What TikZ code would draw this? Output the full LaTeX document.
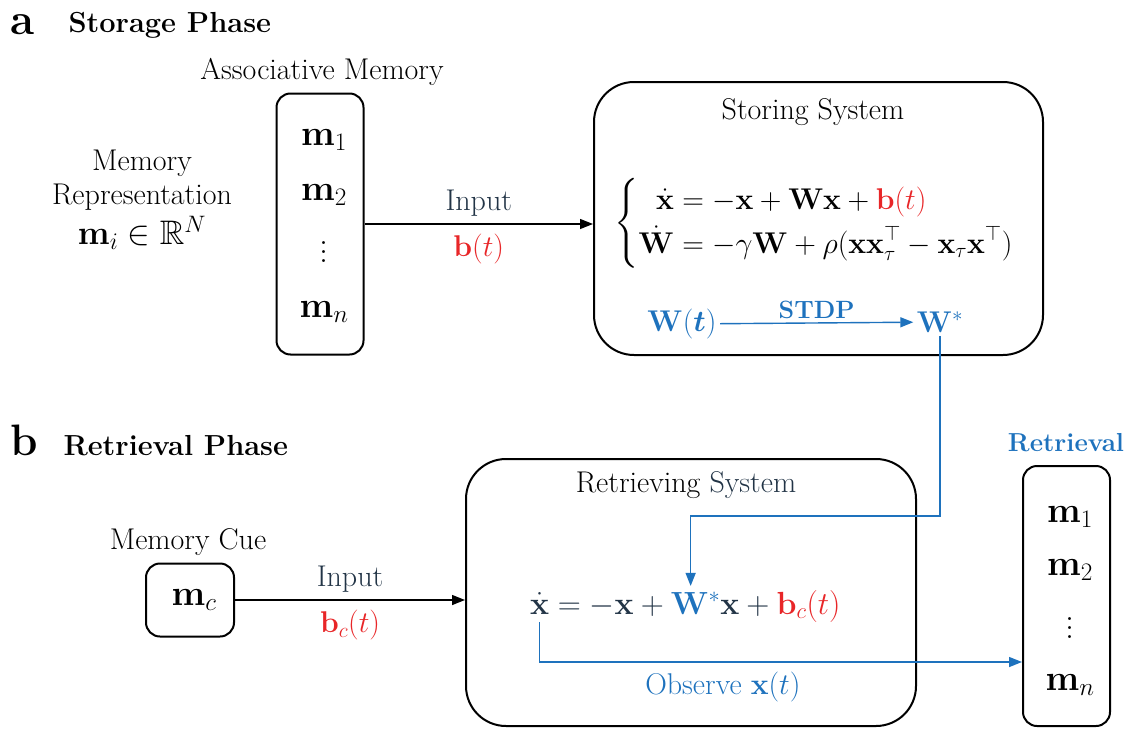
\RequirePackage{fix-cm}
\documentclass[tikz,border=0pt]{standalone}
\usepackage{amsmath}
\usepackage{amssymb}
\usetikzlibrary{positioning, arrows.meta, calc}

\definecolor{stdpblue}{RGB}{30,114,189}
\definecolor{inred}{RGB}{232,38,40}
\definecolor{slate}{RGB}{34,52,70}

% dots that grow with the font
\newcommand{\tallvdots}{\vbox{\baselineskip=9pt\lineskiplimit=0pt\hbox{.}\hbox{.}\hbox{.}}}

\begin{document}
\begin{tikzpicture}[x=1pt, y=-1pt,
    every node/.style={font=\fontsize{30}{34}\selectfont},
    panel/.style={font=\fontsize{44}{46}\selectfont\bfseries, anchor=base, inner sep=1pt},
    heading/.style={font=\fontsize{29}{33}\selectfont\bfseries, anchor=base west},
    mathtxt/.style={font=\fontsize{36}{40}\selectfont},
    wnode/.style={font=\fontsize{30}{34}\selectfont, stdpblue},
    membox/.style={rectangle, draw=black, line width=2pt, rounded corners=14pt,
                   minimum width=87pt, minimum height=261pt},
    cuebox/.style={rectangle, draw=black, line width=2pt, rounded corners=14pt,
                   minimum width=88pt, minimum height=73pt},
    sysbox/.style={rectangle, draw=black, line width=2pt, rounded corners=40pt},
    eqpart/.style={inner sep=0pt, outer sep=0pt, anchor=base west,
                   font=\fontsize{32}{36}\selectfont},
    arrow/.style={-{Triangle[length=13pt, width=10pt]}, line width=1.4pt},
    bluearrow/.style={arrow, stdpblue}
]
    \useasboundingbox (0,0) rectangle (1129,728);

    % === a: Storage Phase ===
    \node[panel] (pa) at (23,34) {a};
    \node[heading] (storage) at (65,32) {Storage Phase};

    % Associative memory
    \node (assoclbl) at (322,72) {Associative Memory};
    \node[membox] (assoc) at (320,224) {};
    \foreach \i/\y/\t in {1/140/\mathbf{m}_1, 2/195/\mathbf{m}_2, 3/252/\tallvdots, 4/312/\mathbf{m}_n}
        \node[mathtxt] (am\i) at (324,\y) {$\t$};

    % Representation
    \node[align=center] (rep) at (142,200) {Memory\\Representation\\[4pt]
        \fontsize{34}{38}\selectfont$\mathbf{m}_i \in \mathbb{R}^N$};

    % Storing system
    \node[sysbox, minimum width=449pt, minimum height=273pt] (store) at (818.5,218.5) {};
    \node (storelbl) at (813,112) {Storing System};
    \node[font=\fontsize{30}{41}\selectfont] (storeq) at (814,223) {$\left\{\begin{aligned}
        \dot{\mathbf{x}} &= -\mathbf{x} + \mathbf{W}\mathbf{x} + \textcolor{inred}{\mathbf{b}(t)}\\
        \dot{\mathbf{W}} &= -\gamma\mathbf{W} + \rho(\mathbf{x}\mathbf{x}_\tau^\top - \mathbf{x}_\tau\mathbf{x}^\top)
        \end{aligned}\right.$};
    \node[wnode] (wt) at (682,324) {$\mathbf{W}(\boldsymbol{t})$};
    \node[wnode] (wstar) at (940,322) {$\mathbf{W}^*$};

    % Input arrow
    \draw[arrow] (assoc.east) -- (assoc.east -| store.west)
        node[midway, above=4pt, slate] (inlbl) {Input}
        node[midway, below=6pt, inred] (bt) {$\mathbf{b}(t)$};

    % STDP
    \draw[bluearrow] (wt) -- (wstar)
        node[midway, above=0pt, font=\fontsize{25}{30}\selectfont\bfseries] (stdp) {STDP};

    % === b: Retrieval Phase ===
    \node[panel] (pb) at (24,455) {b};
    \node[heading] (retrieval) at (60,455) {Retrieval Phase};

    % Memory cue
    \node (cuelbl) at (188,542) {Memory Cue};
    \node[cuebox, mathtxt] (cue) at (190,600) {\hspace{8pt}$\mathbf{m}_c$};

    % Retrieving system
    \node[sysbox, minimum width=450pt, minimum height=267pt] (retr) at (691,592.5) {};
    \node (retrlbl) at (686,485) {Retrieving \textcolor{slate}{System}};
    \node[eqpart, slate] (xd) at (530,614) {$\dot{\mathbf{x}}$};
    \node[eqpart, slate] (rmid) at (xd.base east) {${}= -\mathbf{x} +{}$};
    \node[eqpart, stdpblue] (rwst) at (rmid.base east) {$\mathbf{W}^*$};
    \node[eqpart, slate] (rend) at (rwst.base east) {${}\mathbf{x} + \textcolor{inred}{\mathbf{b}_c(t)}$};

    % Retrieved memory
    \node[font=\fontsize{26}{30}\selectfont\bfseries, stdpblue] (retlbl) at (1066,443) {Retrieval};
    \node[membox, minimum height=260pt] (retm) at (1066.5,596) {};
    \foreach \i/\y/\t in {1/517/\mathbf{m}_1, 2/570/\mathbf{m}_2, 3/628/\tallvdots, 4/685/\mathbf{m}_n}
        \node[mathtxt] (rm\i) at (1070,\y) {$\t$};

    % Cue input
    \draw[arrow] (cue.east) -- (cue.east -| retr.west)
        node[midway, above=4pt, slate] (cuein) {Input}
        node[midway, below=6pt, inred] (bct) {$\mathbf{b}_c(t)$};

    % W* feedback
    \draw[bluearrow] (wstar.south) -- ++(0,180) -| ([xshift=-5pt, yshift=6pt]rwst.north);

    % Observe
    \coordinate (obsy) at (0,662);
    \draw[bluearrow] ([yshift=-8pt]xd.south) |- (retm.west |- obsy)
        node[pos=0.69, below=6pt, stdpblue] (obs) {Observe $\mathbf{x}(t)$};
\end{tikzpicture}
\end{document}
